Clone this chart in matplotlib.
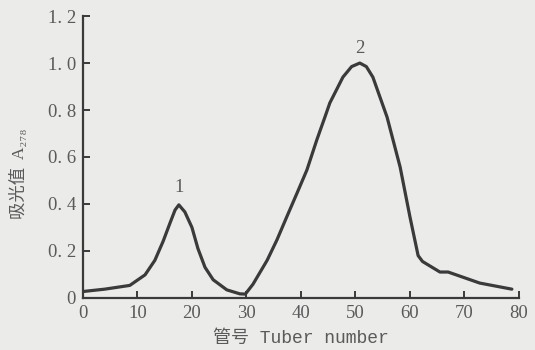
import matplotlib
matplotlib.use("Agg")
import matplotlib.pyplot as plt
from matplotlib.ticker import FixedLocator, FixedFormatter

# curve (tube number, absorbance)
tube = [0, 4, 8.6, 11.4, 13.2, 14.7, 16.0, 16.9, 17.6, 18.7, 20.0, 21.1,
        22.4, 23.9, 26.4, 28.8, 29.8, 31.2, 33.8, 35.6, 37.4, 39.3, 41.1,
        42.9, 44.4, 45.3, 47.7, 49.3, 50.8, 52.0, 53.2, 55.8, 58.2, 60.0,
        61.5, 62.3, 65.5, 67.0, 72.8, 78.7]
absorb = [0.027, 0.037, 0.053, 0.098, 0.16, 0.24, 0.32, 0.374, 0.396, 0.366,
          0.30, 0.21, 0.13, 0.077, 0.034, 0.017, 0.016, 0.058, 0.16, 0.247,
          0.345, 0.447, 0.545, 0.672, 0.77, 0.83, 0.94, 0.985, 1.0, 0.985,
          0.94, 0.77, 0.557, 0.345, 0.18, 0.155, 0.11, 0.11, 0.063, 0.037]

peak_names = ["1", "2"]
peak_x = [17.6, 50.8]
peak_y = [0.47, 1.06]

yticks = [0, 0.2, 0.4, 0.6, 0.8, 1.0, 1.2]
ytick_labels = ["0", "0. 2", "0. 4", "0. 6", "0. 8", "1. 0", "1. 2"]
xticks = [0, 10, 20, 30, 40, 50, 60, 70, 80]

bg = "#ebebea"
ink = "#3a3a3a"
txt = "#5a5a5a"

fig = plt.figure(figsize=(5.35, 3.5), dpi=100, facecolor=bg)
ax = fig.add_axes([0.155, 0.149, 0.815, 0.805], facecolor=bg)

ax.plot(tube, absorb, color=ink, lw=2.3, solid_joinstyle="round",
        solid_capstyle="round")

for n, px, py in zip(peak_names, peak_x, peak_y):
    ax.text(px, py, n, ha="center", va="center", fontsize=13.5,
            family="Liberation Serif", color=txt)

ax.set_xlim(0, 80)
ax.set_ylim(0, 1.2)
ax.xaxis.set_major_locator(FixedLocator(xticks))
ax.yaxis.set_major_locator(FixedLocator(yticks))
ax.yaxis.set_major_formatter(FixedFormatter(ytick_labels))

for s in ["top", "right"]:
    ax.spines[s].set_visible(False)
for s in ["left", "bottom"]:
    ax.spines[s].set_color(ink)
    ax.spines[s].set_linewidth(1.6)

ax.tick_params(direction="in", length=5, width=1.4, color=ink,
               labelcolor=txt, labelsize=13.5, pad=5)
for lab in ax.get_xticklabels() + ax.get_yticklabels():
    lab.set_family("Liberation Serif")

ax.set_xlabel("管号 Tuber number", fontsize=13, color=txt, labelpad=6,
              family=["Liberation Mono", "Noto Sans CJK SC"])
ax.set_ylabel("吸光值  A\u2082\u2087\u2088", fontsize=12.5, color=txt,
              family=["Liberation Serif", "Noto Sans CJK SC", "DejaVu Serif"])
ax.yaxis.set_label_coords(-0.125, 0.44)

fig.savefig("out.png", dpi=100, facecolor=bg)
